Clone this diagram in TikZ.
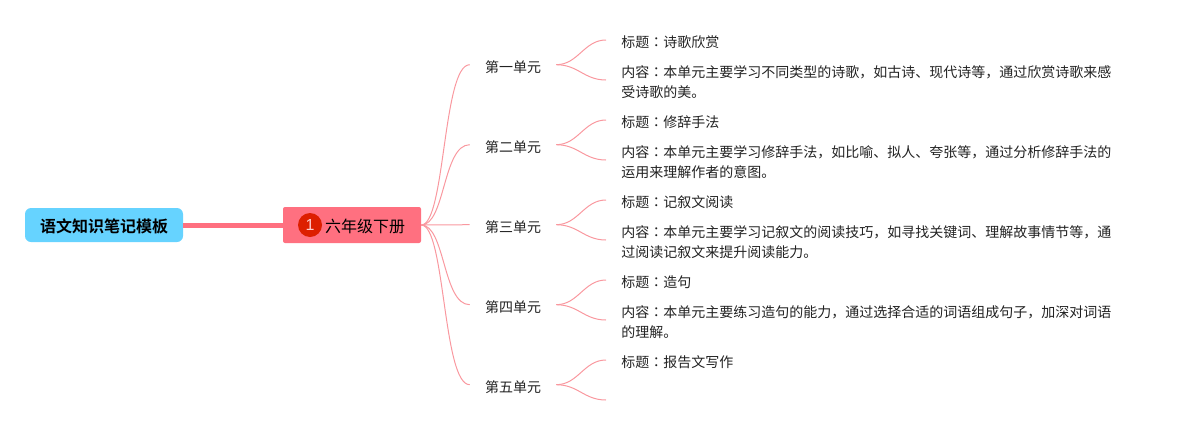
\documentclass[tikz,border=0pt]{standalone}
\usepackage{fontspec}
\setmainfont[BoldFont={Noto Sans CJK SC Bold}]{Noto Sans CJK SC}
\newfontfamily\latinfont{Liberation Sans}
\newfontfamily\colonfont{Noto Sans CJK TC}
\newcommand{\mh}{{\colonfont ：}}
\definecolor{rootblue}{HTML}{66D3FF}
\definecolor{mainred}{HTML}{FF7080}
\definecolor{linepink}{HTML}{F9989F}
\definecolor{badgered}{HTML}{DD1F00}
\definecolor{textgray}{HTML}{222222}
\tikzset{
    rootbox/.style={fill=rootblue, rounded corners=4.5pt, minimum width=118.5pt, minimum height=25.5pt, inner sep=0pt, text height=12pt, font=\fontsize{12pt}{15pt}\selectfont\bfseries},
    mainbox/.style={fill=mainred, rounded corners=1.5pt, minimum width=103.5pt, minimum height=27pt, inner sep=0pt, text height=12pt, font=\fontsize{12pt}{15pt}\selectfont},
    badge/.style={circle, fill=badgered, minimum size=18pt, inner sep=0pt, text=white!80!red, font=\latinfont\fontsize{12pt}{12pt}\selectfont},
    unitbox/.style={minimum width=64.5pt, inner sep=0pt, text height=12pt, text=textgray, font=\fontsize{10.5pt}{15pt}\selectfont},
    notebox/.style={anchor=west, inner xsep=11.25pt, inner ysep=0pt, text height=12pt, align=left, text=textgray, font=\fontsize{10.5pt}{15pt}\selectfont},
    longnote/.style={notebox, text height=27pt},
    branch/.style={draw=linepink, line width=0.75pt},
    link/.style={draw=mainred, line width=3.75pt}
}
\begin{document}
\begin{tikzpicture}[x=0.75pt, y=-0.75pt]
    \useasboundingbox (0,0) rectangle (1181,425);

    % 中心
    \node (root) [rootbox] at (104,225) {语文知识笔记模板};
    \node (grade) [mainbox] at (352,225) {\hspace*{19.5pt}六年级下册};
    \node (mark) [badge] at (310,225) {1};
    \draw[link] (root.east) -- (grade.west);

    % 单元
    \node (unitA) [unitbox] at (513,64.7) {第一单元};
    \node (unitB) [unitbox] at (513,144.7) {第二单元};
    \node (unitC) [unitbox] at (513,224.7) {第三单元};
    \node (unitD) [unitbox] at (513,304.7) {第四单元};
    \node (unitE) [unitbox] at (513,384.7) {第五单元};
    \draw[branch] (grade.east) .. controls +(24,0) and +(-27,0) .. (unitA.west);
    \draw[branch] (grade.east) .. controls +(24,0) and +(-27,0) .. (unitB.west);
    \draw[branch] (grade.east) -- (unitC.west);
    \draw[branch] (grade.east) .. controls +(24,0) and +(-27,0) .. (unitD.west);
    \draw[branch] (grade.east) .. controls +(24,0) and +(-27,0) .. (unitE.west);

    % 第一单元
    \node (titleA) [notebox] at (606,40) {标题\mh 诗歌欣赏};
    \node (textA) [longnote] at (606,80) {内容\mh 本单元主要学习不同类型的诗歌，如古诗、现代诗等，通过欣赏诗歌来感\\受诗歌的美。};
    \draw[branch] (unitA.east) .. controls +(22,0) and +(-22,0) .. (titleA.west);
    \draw[branch] (unitA.east) .. controls +(22,0) and +(-22,0) .. (textA.west);

    % 第二单元
    \node (titleB) [notebox] at (606,120) {标题\mh 修辞手法};
    \node (textB) [longnote] at (606,160) {内容\mh 本单元主要学习修辞手法，如比喻、拟人、夸张等，通过分析修辞手法的\\运用来理解作者的意图。};
    \draw[branch] (unitB.east) .. controls +(22,0) and +(-22,0) .. (titleB.west);
    \draw[branch] (unitB.east) .. controls +(22,0) and +(-22,0) .. (textB.west);

    % 第三单元
    \node (titleC) [notebox] at (606,200) {标题\mh 记叙文阅读};
    \node (textC) [longnote] at (606,240) {内容\mh 本单元主要学习记叙文的阅读技巧，如寻找关键词、理解故事情节等，通\\过阅读记叙文来提升阅读能力。};
    \draw[branch] (unitC.east) .. controls +(22,0) and +(-22,0) .. (titleC.west);
    \draw[branch] (unitC.east) .. controls +(22,0) and +(-22,0) .. (textC.west);

    % 第四单元
    \node (titleD) [notebox] at (606,280) {标题\mh 造句};
    \node (textD) [longnote] at (606,320) {内容\mh 本单元主要练习造句的能力，通过选择合适的词语组成句子，加深对词语\\的理解。};
    \draw[branch] (unitD.east) .. controls +(22,0) and +(-22,0) .. (titleD.west);
    \draw[branch] (unitD.east) .. controls +(22,0) and +(-22,0) .. (textD.west);

    % 第五单元
    \node (titleE) [notebox] at (606,360) {标题\mh 报告文写作};
    \coordinate (textE) at (606,400);
    \draw[branch] (unitE.east) .. controls +(22,0) and +(-22,0) .. (titleE.west);
    \draw[branch] (unitE.east) .. controls +(22,0) and +(-22,0) .. (textE);
\end{tikzpicture}
\end{document}
